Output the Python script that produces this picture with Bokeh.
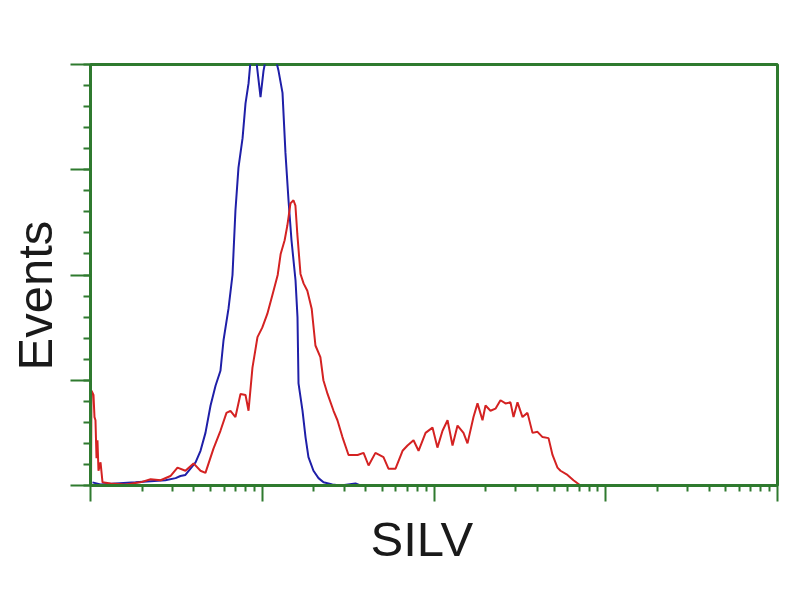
from bokeh.plotting import figure
from bokeh.models import FixedTicker, Range1d, Title
from bokeh.embed import file_html
from bokeh.resources import INLINE

# Control (blue) histogram: fluorescence intensity vs events
blue_x = [1.027, 1.144, 1.398, 1.828, 2.236, 2.73, 3.13, 3.34, 3.57, 3.82, 4.09, 4.37, 4.67, 5.0,
          5.35, 5.71, 5.95, 6.36, 6.71, 6.98, 7.27, 7.68, 7.99, 8.32, 8.55, 8.89, 9.26, 9.77,
          10.17, 10.59, 11.17, 11.94, 12.44, 13.12, 13.65, 14.22, 14.80, 15.62, 16.04, 16.26,
          17.16, 17.86, 18.58, 19.87, 21.26, 22.74, 25.6, 28.6, 34.9, 37.3]
blue_y = [3, 1, 2, 3, 4, 5, 7, 9, 10, 16, 22, 33, 50, 76,
          95, 109, 138, 168, 200, 261, 302, 330, 363, 382, 404, 409, 402, 369,
          394, 409, 409, 406, 394, 373, 316, 271, 233, 195, 160, 97,
          71, 46, 27, 14, 7, 3, 1, 0, 2, 0]

# SILV stained (red) histogram
red_x = [1.007, 1.013, 1.041, 1.055, 1.069, 1.084, 1.098, 1.113, 1.144, 1.175, 1.31, 1.60, 1.95,
         2.24, 2.56, 2.92, 3.21, 3.57, 3.98, 4.37, 4.67, 5.20, 5.71, 6.19, 6.53, 6.98, 7.47,
         7.99, 8.32, 8.77, 9.38, 10.0, 10.7, 11.5, 12.3, 12.8, 13.5, 14.0, 14.6, 15.2, 15.6,
         16.0, 16.7, 17.4, 18.3, 19.4, 20.4, 21.8, 22.7, 24.0, 26.0, 27.4, 29.3, 31.8, 35.9,
         38.9, 41.6, 45.6, 50.8, 54.3, 59.7, 65.6, 70.1, 76.0, 81.3, 89.3, 98.0, 104.7, 112.1,
         119.9, 128.2, 137.1, 148.5, 156.7, 169.8, 179.2, 191.6, 199.5, 213.3, 228.0, 243.8,
         260.7, 278.8, 290.4, 306.3, 327.5, 350.1, 374.6, 400.6, 428.4, 464.4, 489.8, 523.6,
         545.3, 598.6, 648.6, 712.8, 783.5]
red_y = [0, 90, 86, 65, 62, 26, 43, 14, 22, 3, 2, 1, 3,
         6, 5, 9, 17, 14, 21, 14, 12, 35, 52, 69, 71, 65, 87,
         86, 71, 112, 141, 150, 163, 182, 200, 220, 233, 247, 268, 271, 266,
         239, 201, 192, 185, 168, 133, 122, 100, 87, 71, 62, 46, 29, 29,
         31, 19, 31, 27, 16, 16, 33, 38, 43, 33, 50, 55, 36, 52,
         62, 38, 57, 50, 40, 65, 78, 62, 76, 71, 73, 81,
         78, 79, 65, 79, 65, 69, 50, 51, 46, 45, 29, 17,
         14, 10, 5, 0, 0]

x_major = [1, 10, 100, 1000, 10000]
x_minor = [k * 10 ** d for d in range(4) for k in range(2, 10)]
y_major = [0, 100, 200, 300, 400]
y_minor = [v for v in range(0, 401, 20)]

x_title = "SILV"
y_title = "Events"

GREEN = "#2f7a2f"

p = figure(width=784, height=584, x_axis_type="log",
           x_range=Range1d(1, 10000), y_range=Range1d(0, 400),
           output_backend="svg", toolbar_location=None,
           min_border_left=90, min_border_right=7, min_border_top=64, min_border_bottom=99)
p.frame_width = 687
p.frame_height = 421

p.line(blue_x, blue_y, line_color="#1f1fa8", line_width=2)
p.line(red_x, red_y, line_color="#d42222", line_width=2)

p.grid.visible = False
p.outline_line_color = GREEN
p.outline_line_width = 3
p.background_fill_color = "white"
p.border_fill_color = "white"

p.xaxis.ticker = FixedTicker(ticks=x_major, minor_ticks=x_minor)
p.yaxis.ticker = FixedTicker(ticks=y_major, minor_ticks=y_minor)

for ax in (p.xaxis, p.yaxis):
    ax.axis_line_color = GREEN
    ax.axis_line_width = 3
    ax.major_tick_line_color = GREEN
    ax.minor_tick_line_color = GREEN
    ax.major_tick_line_width = 2
    ax.minor_tick_line_width = 2
    ax.major_tick_in = 0
    ax.minor_tick_in = 0
    ax.major_label_text_font_size = "1px"
    ax.major_label_text_alpha = 0
    ax.major_label_standoff = 0

p.xaxis.major_tick_out = 16
p.xaxis.minor_tick_out = 6
p.yaxis.major_tick_out = 20
p.yaxis.minor_tick_out = 7

p.add_layout(Title(text=x_title, align="left", offset=280, standoff=17,
                   text_font="Liberation Sans", text_font_size="49px",
                   text_font_style="normal", text_color="#1a1a1a"), "below")
p.add_layout(Title(text=y_title, align="left", offset=115, standoff=13,
                   vertical_align="top",
                   text_font="Liberation Sans", text_font_size="49px",
                   text_font_style="normal", text_color="#1a1a1a"), "left")

open("out.html", "w").write(file_html(p, INLINE))
